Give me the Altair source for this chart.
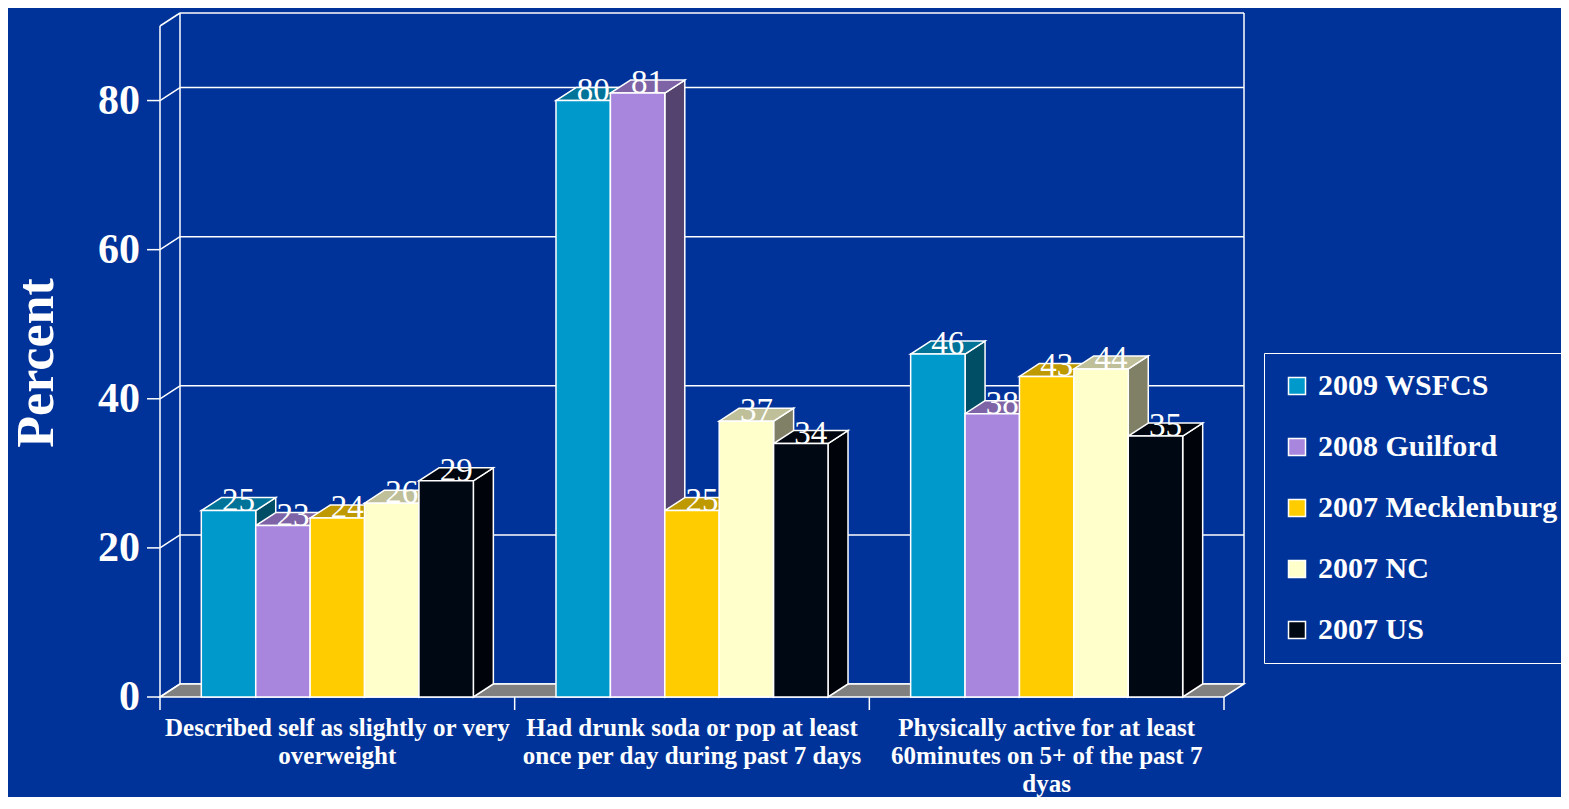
import altair as alt
import pandas as pd

# ---------------- data ----------------
categories = [
    "Described self as slightly or very\noverweight",
    "Had drunk soda or pop at least\nonce per day during past 7 days",
    "Physically active for at least\n60minutes on 5+ of the past 7\ndyas",
]
series = ["2009 WSFCS", "2008 Guilford", "2007 Mecklenburg", "2007 NC", "2007 US"]
wsfcs = [25, 80, 46]
guilford = [23, 81, 38]
mecklenburg = [24, 25, 43]
nc = [26, 37, 44]
us = [29, 34, 35]
y_ticks = [0, 20, 40, 60, 80]
y_max = 90
y_title = "Percent"

# ---------------- styles ----------------
front_colors = ["#0099CC", "#A886DD", "#FFCC00", "#FFFFCC", "#000814"]
top_colors = ["#007399", "#7E64A6", "#BF9900", "#BFBF99", "#00060F"]
side_colors = ["#004D66", "#54436E", "#806600", "#808066", "#00040A"]
BG = "#003399"
SERIF = "Liberation Serif"

NC_ = len(categories)
DX = 0.0564   # depth offset in band units
DY = 1.744    # depth offset in value units
BW = 0.1534   # bar width in band units
GAP = (1 - len(series) * BW) / 2
W, H = 1084, 684

all_vals = [wsfcs, guilford, mecklenburg, nc, us]
rows = []
for gi, cat in enumerate(categories):
    for si, name in enumerate(series):
        rows.append({"g": gi, "s": si, "series": name, "value": all_vals[si][gi]})
bars = pd.DataFrame(rows)

# frame lines (walls / grid) derived from the axis ticks
lines = []
for t in y_ticks + [y_max]:
    lines.append({"x": DX, "y": t + DY, "x2": NC_ + DX, "y2": t + DY})
    lines.append({"x": 0, "y": t, "x2": DX, "y2": t + DY})
lines.append({"x": 0, "y": 0, "x2": 0, "y2": y_max})
lines.append({"x": DX, "y": DY, "x2": DX, "y2": y_max + DY})
lines.append({"x": NC_ + DX, "y": DY, "x2": NC_ + DX, "y2": y_max + DY})
frame_df = pd.DataFrame(lines)

xs = alt.Scale(domain=[0, NC_ + DX], nice=False, zero=False)
ys = alt.Scale(domain=[0, y_max + DY], nice=False, zero=False)

frame = alt.Chart(frame_df).mark_rule(color="white", strokeWidth=1.5).encode(
    x=alt.X("x:Q", scale=xs, axis=None), x2="x2:Q",
    y=alt.Y("y:Q", scale=ys, axis=None), y2="y2:Q",
)

# axis pieces
ytick_df = pd.DataFrame({"t": y_ticks})
y_ticks_marks = alt.Chart(ytick_df).mark_rule(color="white", strokeWidth=1.5).encode(
    y=alt.Y("t:Q", scale=ys, axis=None), x=alt.value(-13), x2=alt.value(0),
)
y_labels = alt.Chart(ytick_df).mark_text(
    font=SERIF, fontSize=42, fontWeight="bold", color="white", align="right", baseline="middle"
).encode(
    y=alt.Y("t:Q", scale=ys, axis=None), x=alt.value(-20), text="t:Q",
)
xtick_df = pd.DataFrame({"b": list(range(NC_ + 1))})
x_ticks_marks = alt.Chart(xtick_df).mark_rule(color="white", strokeWidth=1.5).encode(
    x=alt.X("b:Q", scale=xs, axis=None), y=alt.value(H), y2=alt.value(H + 13),
)
title_mark = alt.Chart(pd.DataFrame({"title": [y_title]})).mark_text(
    font=SERIF, fontSize=52, fontWeight="bold", color="white", angle=270,
    align="center", baseline="middle",
).encode(x=alt.value(-123), y=alt.value(350), text="title:N")

floor = alt.Chart(pd.DataFrame({"k": [0, 1]})).transform_calculate(
    fy=f"datum.k * {DY}", fx1=f"datum.k * {DX}", fx2=f"{NC_} + datum.k * {DX}"
).mark_area(orient="horizontal", fill="#808080", stroke="white", strokeWidth=1.5).encode(
    y=alt.Y("fy:Q", scale=ys, axis=None),
    x=alt.X("fx1:Q", scale=xs, axis=None, stack=None), x2="fx2:Q",
)

base = alt.Chart(bars).transform_calculate(
    xl=f"datum.g + {GAP} + datum.s * {BW}",
    xr=f"datum.g + {GAP} + (datum.s + 1) * {BW}",
    id="datum.g + '_' + datum.s",
    zero="0",
)

side = base.transform_calculate(k="[0, 1]").transform_flatten(["k"]).transform_calculate(
    sx=f"datum.xr + datum.k * {DX}",
    sy=f"datum.value + datum.k * {DY}",
    sy2=f"datum.k * {DY}",
).mark_area(orient="vertical", stroke="white", strokeWidth=1.5).encode(
    x=alt.X("sx:Q", scale=xs, axis=None),
    y=alt.Y("sy:Q", scale=ys, axis=None, stack=None), y2="sy2:Q",
    detail="id:N",
    fill=alt.Fill("series:N", scale=alt.Scale(domain=series, range=side_colors), legend=None),
)

top = base.transform_calculate(k="[0, 1]").transform_flatten(["k"]).transform_calculate(
    ty=f"datum.value + datum.k * {DY}",
    tx1=f"datum.xl + datum.k * {DX}",
    tx2=f"datum.xr + datum.k * {DX}",
).mark_area(orient="horizontal", stroke="white", strokeWidth=1.5).encode(
    y=alt.Y("ty:Q", scale=ys, axis=None),
    x=alt.X("tx1:Q", scale=xs, axis=None, stack=None), x2="tx2:Q",
    detail="id:N",
    fill=alt.Fill("series:N", scale=alt.Scale(domain=series, range=top_colors), legend=None),
)

front = base.mark_bar(stroke="white", strokeWidth=1.5).encode(
    x=alt.X("xl:Q", scale=xs, axis=None), x2="xr:Q",
    y=alt.Y("value:Q", scale=ys, axis=None), y2="zero:Q",
    fill=alt.Fill(
        "series:N",
        scale=alt.Scale(domain=series, range=front_colors),
        legend=alt.Legend(
            orient="none", legendX=1104, legendY=340, title=None,
            symbolType="square", symbolSize=289, symbolStrokeColor="white",
            symbolStrokeWidth=1.5, labelFont=SERIF, labelFontSize=30,
            labelFontWeight="bold", labelColor="white", labelOffset=6,
            rowPadding=31, padding=18, strokeColor="white", labelLimit=400,
        ),
    ),
)

value_labels = base.transform_calculate(
    lx=f"(datum.xl + datum.xr) / 2 + {DX / 2}"
).mark_text(font=SERIF, fontSize=33, color="white", baseline="alphabetic", align="center").encode(
    x=alt.X("lx:Q", scale=xs, axis=None),
    y=alt.Y("value:Q", scale=ys, axis=None),
    text="value:Q",
)

cat_df = pd.DataFrame({"cat": categories, "g": list(range(NC_))})
cat_labels = alt.Chart(cat_df).transform_calculate(cx="datum.g + 0.5").mark_text(
    font=SERIF, fontSize=25, fontWeight="bold", color="white", lineBreak="\n",
    lineHeight=28, baseline="alphabetic", align="center",
).encode(
    x=alt.X("cx:Q", scale=xs, axis=None),
    y=alt.value(723),
    text="cat:N",
)

chart = alt.layer(
    frame, y_ticks_marks, y_labels, x_ticks_marks, title_mark, floor, side, top, front,
    value_labels, cat_labels,
).resolve_scale(
    fill="independent"
).properties(
    width=W, height=H, background=BG,
    autosize=alt.AutoSizeParams(type="none"),
    padding={"left": 152, "top": 5, "right": 317, "bottom": 100},
).configure_view(stroke=None)

chart.save("out.html", embed_options={"renderer": "svg", "actions": False})
